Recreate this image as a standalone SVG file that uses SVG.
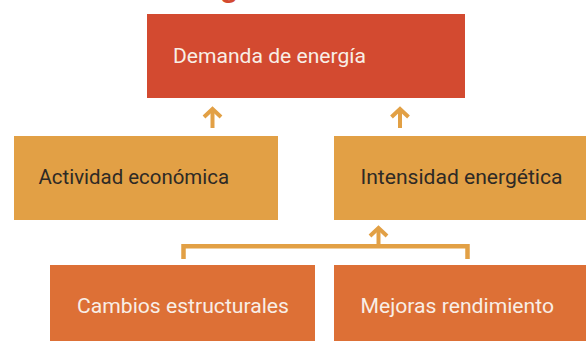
<svg xmlns="http://www.w3.org/2000/svg" width="586" height="341" viewBox="0 0 586 341">
  <style>
    .lbl { font-family: Roboto, "Liberation Sans", sans-serif; font-size: 20.5px; }
    .light { fill: #f8eee6; }
    .dark { fill: #2e2a25; }
    .red { fill: #D34A30; }
    .mid { fill: #E2A045; }
    .low { fill: #DD7036; }
    .conn { fill: none; stroke: #E2A045; }
  </style>
  <defs>
    <marker id="chev" markerUnits="userSpaceOnUse" markerWidth="14" markerHeight="22" viewBox="0 0 14 22" refX="11" refY="11" orient="auto">
      <path d="M3,2.5 L11,11 L3,19.5" fill="none" stroke="#E2A045" stroke-width="4"/>
    </marker>
  </defs>

  <text x="220" y="-3" font-family="'Liberation Sans', sans-serif" font-weight="bold" font-size="30" fill="#D34A30">g</text>

  <g id="demanda">
    <rect class="red" x="147" y="14" width="318" height="84"/>
    <text class="lbl light" x="173" y="63" textLength="193" lengthAdjust="spacingAndGlyphs">Demanda de energía</text>
  </g>
  <g id="actividad">
    <rect class="mid" x="14" y="136" width="264" height="84"/>
    <text class="lbl dark" x="38.5" y="184" textLength="190.5" lengthAdjust="spacingAndGlyphs">Actividad económica</text>
  </g>
  <g id="intensidad">
    <rect class="mid" x="334" y="136" width="256" height="84"/>
    <text class="lbl dark" x="360.5" y="184" textLength="202" lengthAdjust="spacingAndGlyphs">Intensidad energética</text>
  </g>
  <g id="cambios">
    <rect class="low" x="50" y="265" width="265" height="80"/>
    <text class="lbl light" x="77" y="313" textLength="212" lengthAdjust="spacingAndGlyphs">Cambios estructurales</text>
  </g>
  <g id="mejoras">
    <rect class="low" x="334" y="265" width="256" height="80"/>
    <text class="lbl light" x="360.5" y="313" textLength="193.5" lengthAdjust="spacingAndGlyphs">Mejoras rendimiento</text>
  </g>

  <g id="connectors">
    <path class="conn" stroke-width="4" d="M212.5,128 V109" marker-end="url(#chev)"/>
    <path class="conn" stroke-width="4" d="M400,128 V109" marker-end="url(#chev)"/>
    <path class="conn" stroke-width="4.5" d="M183.5,259 V246.3 H467.5 V259"/>
    <path class="conn" stroke-width="4" d="M378.5,245 V228" marker-end="url(#chev)"/>
  </g>
</svg>
